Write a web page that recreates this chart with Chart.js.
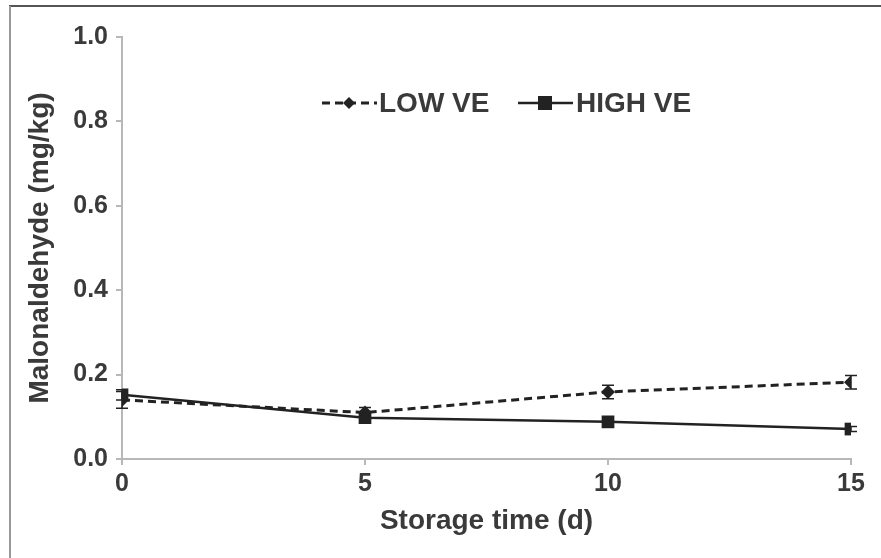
<!DOCTYPE html>
<html>
<head>
<meta charset="utf-8">
<script src="https://cdn.jsdelivr.net/npm/chart.js@4"></script>
<style>
  html, body { margin: 0; padding: 0; background: #fff; }
  #wrap { width: 881px; height: 558px; }
</style>
</head>
<body>
<div id="wrap"><canvas id="chart" width="881" height="558"></canvas></div>
<script>
// storage time (d)
var days = [0, 5, 10, 15];
var lowVE = [0.140, 0.110, 0.159, 0.182];
var lowErr = [0.020, 0.012, 0.016, 0.016];
var highVE = [0.152, 0.098, 0.088, 0.071];
var highErr = [0.012, 0.008, 0.008, 0.006];
var yTicks = [0, 0.2, 0.4, 0.6, 0.8, 1.0];

var ink = '#222';
var txt = '#3a3a3a';
var axisGray = '#b8b8b8';
var fam = '"Liberation Sans", Arial, sans-serif';

function toPoints(vals) {
    return days.map(function (d, i) { return { x: d, y: vals[i] }; });
}

// vertical error bars with caps, drawn under the markers
var errorBars = {
    id: 'errorBars',
    beforeDatasetsDraw: function (chart) {
        var c = chart.ctx, xs = chart.scales.x, ys = chart.scales.y;
        [lowErr, highErr].forEach(function (errs, k) {
            var vals = k === 0 ? lowVE : highVE;
            c.save();
            c.strokeStyle = ink;
            c.lineWidth = 1.5;
            days.forEach(function (d, i) {
                var px = xs.getPixelForValue(d);
                var top = ys.getPixelForValue(vals[i] + errs[i]);
                var bot = ys.getPixelForValue(vals[i] - errs[i]);
                c.beginPath();
                c.moveTo(px, top); c.lineTo(px, bot);
                c.moveTo(px - 6, top); c.lineTo(px + 6, top);
                c.moveTo(px - 6, bot); c.lineTo(px + 6, bot);
                c.stroke();
            });
            c.restore();
        });
    }
};

// legend sitting inside the plot, like the original
var innerLegend = {
    id: 'innerLegend',
    afterDraw: function (chart) {
        var c = chart.ctx;
        var y = 103;
        c.save();
        c.strokeStyle = ink;
        c.fillStyle = ink;
        // LOW VE
        c.lineWidth = 3;
        c.setLineDash([8, 5]);
        c.beginPath(); c.moveTo(322, y); c.lineTo(377, y); c.stroke();
        c.setLineDash([]);
        c.beginPath();
        c.moveTo(349, y - 6); c.lineTo(355, y); c.lineTo(349, y + 6); c.lineTo(343, y);
        c.closePath(); c.fill();
        // HIGH VE
        c.lineWidth = 2.5;
        c.beginPath(); c.moveTo(518, y); c.lineTo(573, y); c.stroke();
        c.fillRect(538, y - 7, 14, 14);
        c.fillStyle = txt;
        c.font = 'bold 28px ' + fam;
        c.textBaseline = 'middle';
        c.fillText(chart.data.datasets[0].label, 379, y + 1);
        c.fillText(chart.data.datasets[1].label, 576, y + 1);
        c.restore();
    }
};

// scan frame: top and left edges
var frame = {
    id: 'frame',
    afterDraw: function (chart) {
        var c = chart.ctx;
        c.save();
        c.lineWidth = 2;
        c.strokeStyle = '#555';
        c.beginPath(); c.moveTo(9, 6); c.lineTo(881, 6); c.stroke();
        c.strokeStyle = '#999';
        c.beginPath(); c.moveTo(10, 6); c.lineTo(10, 558); c.stroke();
        c.restore();
    }
};

var ctx = document.getElementById('chart').getContext('2d');
new Chart(ctx, {
    type: 'line',
    data: {
        datasets: [{
            label: 'LOW VE',
            data: toPoints(lowVE),
            borderColor: ink,
            backgroundColor: ink,
            borderWidth: 3,
            borderDash: [8, 5],
            pointStyle: 'rectRot',
            pointRadius: 7,
            pointBorderWidth: 0
        }, {
            label: 'HIGH VE',
            data: toPoints(highVE),
            borderColor: ink,
            backgroundColor: ink,
            borderWidth: 2.5,
            pointStyle: 'rect',
            pointRadius: 9,
            pointBorderWidth: 0
        }]
    },
    options: {
        responsive: false,
        animation: false,
        layout: { padding: { top: 37, right: 30, left: 0, bottom: 0 } },
        plugins: {
            legend: { display: false },
            tooltip: { enabled: false }
        },
        scales: {
            x: {
                type: 'linear',
                min: 0,
                max: 15,
                afterBuildTicks: function (s) { s.ticks = days.map(function (v) { return { value: v }; }); },
                afterFit: function (s) { s.height = 99; },
                grid: { drawOnChartArea: false, color: axisGray, tickLength: 6, lineWidth: 2 },
                border: { color: axisGray, width: 2 },
                ticks: {
                    color: txt,
                    padding: 4,
                    font: { family: fam, size: 25, weight: 'bold' }
                },
                title: {
                    display: true,
                    text: 'Storage time (d)',
                    color: txt,
                    padding: { bottom: 20 },
                    font: { family: fam, size: 28, weight: 'bold' }
                }
            },
            y: {
                min: 0,
                max: 1,
                afterBuildTicks: function (s) { s.ticks = yTicks.map(function (v) { return { value: v }; }); },
                afterFit: function (s) { s.width = 122; },
                grid: { drawOnChartArea: false, color: axisGray, tickLength: 6, lineWidth: 2 },
                border: { color: axisGray, width: 2 },
                ticks: {
                    color: txt,
                    padding: 8,
                    callback: function (v) { return v.toFixed(1); },
                    font: { family: fam, size: 25, weight: 'bold' }
                },
                title: {
                    display: true,
                    text: 'Malonaldehyde (mg/kg)',
                    color: txt,
                    padding: { top: 23 },
                    font: { family: fam, size: 28, weight: 'bold' }
                }
            }
        }
    },
    plugins: [errorBars, innerLegend, frame]
});
</script>
</body>
</html>
